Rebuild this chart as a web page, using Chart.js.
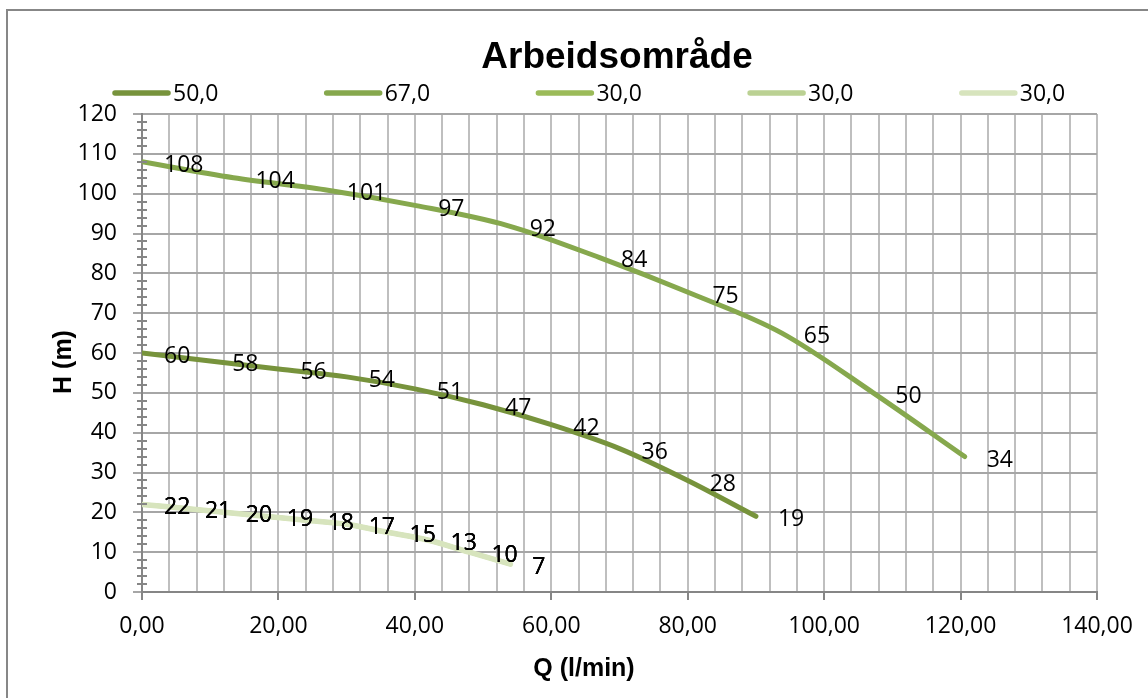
<!DOCTYPE html>
<html>
<head>
<meta charset="utf-8">
<title>Arbeidsområde</title>
<script src="https://cdn.jsdelivr.net/npm/chart.js@4.4.1/dist/chart.umd.min.js"></script>
<style>
  html, body { margin: 0; padding: 0; background: #fff; }
  #wrap { width: 1148px; height: 698px; }
</style>
</head>
<body>
<div id="wrap"><canvas id="chart" width="1148" height="698"></canvas></div>
<script>
// legend names + colours
const seriesNames = ['50,0', '67,0', '30,0', '30,0', '30,0'];
const seriesColors = ['#77933C', '#86A84D', '#9BBB59', '#BBD193', '#D7E4BD'];

// Q (l/min) per curve
const q50 = [0, 10, 20, 30, 40, 50, 60, 70, 80, 90];
const q67 = [0, 13.4, 26.8, 40.2, 53.6, 67, 80.4, 93.8, 107.2, 120.6];
const q30 = [0, 6, 12, 18, 24, 30, 36, 42, 48, 54];

// H (m) per curve
const h50 = [60, 58, 56, 54, 51, 47, 42, 36, 28, 19];
const h67 = [108, 104, 101, 97, 92, 84, 75, 65, 50, 34];
const h30 = [22, 21, 20, 19, 18, 17, 15, 13, 10, 7];

// axis ranges
const xMax = 140, xGridStep = 4, xLabelStep = 20;
const yMax = 120, yStep = 10, yMinorStep = 2;

const FONT = '"Open Sans", "DejaVu Sans", sans-serif';
const BOLD = '"Liberation Sans", Arial, sans-serif';

const curves = [[q50, h50], [q67, h67], [q30, h30], [q30, h30], [q30, h30]];
// the three 30,0 copies overlap; the last one is the one you see
const lineWidths = [5, 5, 4, 4.5, 5.5];

const datasets = curves.map((c, i) => ({
    label: seriesNames[i],
    data: c[0].map((x, j) => ({ x: x, y: c[1][j] })),
    borderColor: seriesColors[i],
    backgroundColor: seriesColors[i],
    borderWidth: lineWidths[i],
    borderCapStyle: 'round',
    pointRadius: 0,
    cubicInterpolationMode: 'monotone',
    fill: false,
    order: curves.length - i   // last series on top, like Excel
}));

// value labels to the right of each point
const pointLabels = {
    id: 'pointLabels',
    afterDatasetsDraw(chart) {
        const ctx = chart.ctx;
        ctx.save();
        ctx.font = '23px ' + FONT;
        ctx.fillStyle = '#000';
        ctx.textAlign = 'left';
        ctx.textBaseline = 'middle';
        chart.data.datasets.forEach((ds, i) => {
            chart.getDatasetMeta(i).data.forEach((pt, j) => {
                ctx.fillText(String(ds.data[j].y), pt.x + 22, pt.y + 3.5);
            });
        });
        ctx.restore();
    }
};

// frame, title, legend, axis titles, minor y ticks
const decorations = {
    id: 'decorations',
    beforeDraw(chart) {
        const ctx = chart.ctx;
        ctx.save();
        ctx.fillStyle = '#fff';
        ctx.fillRect(0, 0, chart.width, chart.height);
        ctx.strokeStyle = '#878787';
        ctx.lineWidth = 2;
        ctx.strokeRect(7, 10, chart.width + 20, chart.height + 20);
        ctx.restore();
    },
    afterDraw(chart) {
        const ctx = chart.ctx;
        const area = chart.chartArea;
        const yScale = chart.scales.y;
        ctx.save();

        // minor ticks crossing the y axis
        ctx.strokeStyle = '#868686';
        ctx.lineWidth = 2;
        for (let v = 0; v <= yMax; v += yMinorStep) {
            if (v % yStep === 0) continue;
            const py = Math.round(yScale.getPixelForValue(v));
            ctx.beginPath();
            ctx.moveTo(area.left - 5, py);
            ctx.lineTo(area.left + 5, py);
            ctx.stroke();
        }

        // title
        ctx.fillStyle = '#000';
        ctx.textAlign = 'center';
        ctx.textBaseline = 'alphabetic';
        ctx.font = 'bold 37px ' + BOLD;
        ctx.fillText('Arbeidsområde', 617, 68);

        // legend
        ctx.font = '23px ' + FONT;
        ctx.textAlign = 'left';
        ctx.textBaseline = 'middle';
        ctx.lineCap = 'round';
        ctx.lineWidth = 5.5;
        seriesNames.forEach((name, i) => {
            const lx = 115 + i * 211.7;
            ctx.strokeStyle = seriesColors[i];
            ctx.beginPath();
            ctx.moveTo(lx, 93);
            ctx.lineTo(lx + 53, 93);
            ctx.stroke();
            ctx.fillStyle = '#000';
            ctx.fillText(name, lx + 58, 94);
        });

        // axis titles
        ctx.font = 'bold 25px ' + BOLD;
        ctx.textAlign = 'center';
        ctx.textBaseline = 'middle';
        ctx.fillText('Q (l/min)', 584, 669);
        ctx.translate(64, 362);
        ctx.rotate(-Math.PI / 2);
        ctx.fillText('H (m)', 0, 0);
        ctx.restore();
    }
};

new Chart(document.getElementById('chart'), {
    type: 'line',
    data: { datasets: datasets },
    options: {
        responsive: false,
        animation: false,
        layout: { padding: { left: 0, right: 51, top: 114, bottom: 0 } },
        plugins: {
            legend: { display: false },
            title: { display: false },
            tooltip: { enabled: false }
        },
        scales: {
            x: {
                type: 'linear',
                min: 0,
                max: xMax,
                afterFit(scale) { scale.height = 106; },
                border: { color: '#868686', width: 2 },
                grid: {
                    color: '#BFBFBF',
                    lineWidth: 2,
                    tickLength: 8,
                    tickWidth: 2,
                    tickColor: c => (c.tick && Math.round(c.tick.value) % xLabelStep === 0) ? '#868686' : 'rgba(0,0,0,0)'
                },
                ticks: {
                    stepSize: xGridStep,
                    autoSkip: false,
                    maxRotation: 0,
                    padding: 13,
                    color: '#000',
                    font: { family: FONT, size: 23 },
                    callback: v => Math.round(v) % xLabelStep === 0 ? v.toFixed(2).replace('.', ',') : ''
                }
            },
            y: {
                min: 0,
                max: yMax,
                afterFit(scale) { scale.width = 142; },
                border: { color: '#868686', width: 2 },
                grid: {
                    color: '#A6A6A6',
                    lineWidth: 2,
                    tickLength: 9,
                    tickWidth: 2,
                    tickColor: '#A6A6A6'
                },
                ticks: {
                    stepSize: yStep,
                    padding: 16,
                    color: '#000',
                    font: { family: FONT, size: 23 }
                }
            }
        }
    },
    plugins: [decorations, pointLabels]
});
</script>
</body>
</html>
